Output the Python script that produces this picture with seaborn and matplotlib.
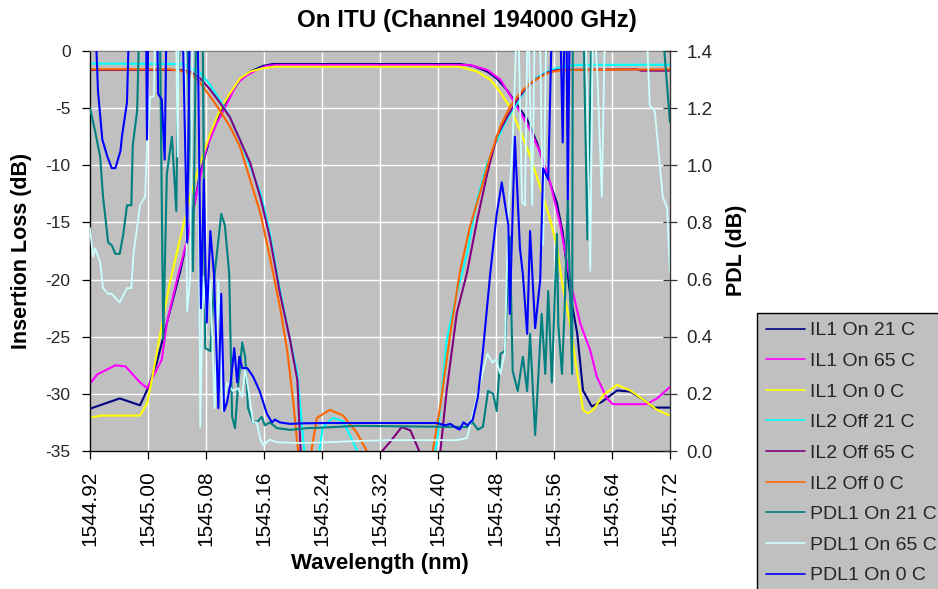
import matplotlib
matplotlib.use("Agg")
import matplotlib.pyplot as plt
import pandas as pd
import seaborn as sns

# ---------------- data (wavelength nm, value) ----------------
X_TICK_LABELS = ["1544.92", "1545.00", "1545.08", "1545.16", "1545.24", "1545.32",
                 "1545.40", "1545.48", "1545.56", "1545.64", "1545.72"]
IL_TICKS = [-35, -30, -25, -20, -15, -10, -5, 0]
PDL_TICKS = [0.0, 0.2, 0.4, 0.6, 0.8, 1.0, 1.2, 1.4]

IL1_ON_21 = [(1544.920, -31.3), (1544.961, -30.4), (1544.989, -31.0), (1545.000, -29.5),
             (1545.012, -27.3), (1545.026, -23.8), (1545.044, -19.4), (1545.058, -15.4),
             (1545.072, -10.7), (1545.086, -7.5), (1545.099, -5.4), (1545.113, -3.85),
             (1545.127, -2.5), (1545.141, -1.8), (1545.159, -1.3), (1545.172, -1.14),
             (1545.430, -1.14), (1545.448, -1.3), (1545.468, -1.8), (1545.481, -2.4),
             (1545.495, -3.4), (1545.509, -4.7), (1545.523, -6.0), (1545.537, -8.1),
             (1545.550, -10.7), (1545.564, -13.3), (1545.572, -15.9), (1545.582, -21.2),
             (1545.592, -24.7), (1545.600, -29.7), (1545.612, -31.1), (1545.626, -30.7),
             (1545.647, -29.7), (1545.665, -29.8), (1545.683, -30.5), (1545.697, -31.2),
             (1545.720, -31.2)]

IL1_ON_65 = [(1544.920, -29.1), (1544.930, -28.3), (1544.955, -27.5), (1544.969, -27.6),
             (1544.989, -29.0), (1544.999, -29.5), (1545.019, -27.0), (1545.026, -23.8),
             (1545.040, -20.0), (1545.054, -16.5), (1545.068, -12.2), (1545.081, -8.4),
             (1545.095, -6.3), (1545.109, -4.6), (1545.123, -2.8), (1545.137, -2.1),
             (1545.150, -1.66), (1545.164, -1.3), (1545.180, -1.22), (1545.444, -1.22),
             (1545.468, -1.66), (1545.486, -2.5), (1545.499, -3.85), (1545.513, -5.3),
             (1545.527, -6.9), (1545.541, -8.9), (1545.555, -11.6), (1545.568, -15.0),
             (1545.582, -20.0), (1545.596, -23.8), (1545.610, -26.2), (1545.619, -28.5),
             (1545.633, -30.4), (1545.641, -30.9), (1545.688, -30.9), (1545.702, -30.4),
             (1545.720, -29.4)]

IL1_ON_0 = [(1544.920, -32.1), (1544.935, -31.9), (1544.961, -31.9), (1544.989, -31.9),
            (1544.999, -30.8), (1545.007, -28.2), (1545.017, -24.7), (1545.030, -20.3),
            (1545.044, -16.5), (1545.058, -12.8), (1545.072, -9.8), (1545.086, -7.2),
            (1545.099, -5.2), (1545.113, -3.7), (1545.127, -2.4), (1545.141, -1.8),
            (1545.159, -1.5), (1545.175, -1.37), (1545.430, -1.37), (1545.454, -1.8),
            (1545.472, -2.5), (1545.486, -3.6), (1545.499, -4.9), (1545.513, -6.9),
            (1545.527, -9.2), (1545.541, -11.9), (1545.555, -14.8), (1545.564, -17.1),
            (1545.572, -20.6), (1545.582, -23.8), (1545.592, -28.2), (1545.600, -31.4),
            (1545.607, -31.7), (1545.614, -31.4), (1545.628, -30.1), (1545.647, -29.2),
            (1545.665, -29.7), (1545.683, -30.5), (1545.702, -31.4), (1545.720, -31.9)]

IL2_OFF_21 = [(1544.920, -1.1), (1545.048, -1.14), (1545.072, -1.9), (1545.086, -3.0),
              (1545.099, -4.3), (1545.113, -5.8), (1545.127, -7.8), (1545.141, -10.1),
              (1545.155, -12.4), (1545.168, -15.9), (1545.182, -20.9), (1545.196, -25.3),
              (1545.206, -28.2), (1545.214, -34.0), (1545.219, -37.0), (1545.232, -37.0),
              (1545.241, -32.9), (1545.255, -32.1), (1545.269, -32.4), (1545.288, -34.9),
              (1545.296, -37.0), (1545.390, -37.0), (1545.399, -34.0), (1545.412, -25.3),
              (1545.426, -21.2), (1545.440, -17.7), (1545.454, -13.0), (1545.468, -9.8),
              (1545.481, -7.8), (1545.495, -6.0), (1545.509, -4.6), (1545.523, -3.1),
              (1545.537, -2.3), (1545.550, -1.8), (1545.564, -1.5), (1545.586, -1.22),
              (1545.720, -1.2)]

IL2_OFF_65 = [(1544.920, -1.66), (1545.044, -1.66), (1545.058, -1.8), (1545.072, -2.4),
              (1545.086, -3.4), (1545.099, -4.5), (1545.113, -5.8), (1545.127, -7.8),
              (1545.141, -9.8), (1545.155, -12.8), (1545.168, -16.3), (1545.182, -21.2),
              (1545.196, -25.3), (1545.206, -28.8), (1545.212, -37.0), (1545.318, -37.0),
              (1545.323, -35.0), (1545.334, -34.2), (1545.350, -32.9), (1545.362, -33.2),
              (1545.374, -35.0), (1545.379, -37.0), (1545.400, -37.0), (1545.412, -29.7),
              (1545.426, -22.9), (1545.440, -19.4), (1545.454, -14.8), (1545.468, -10.7),
              (1545.481, -7.5), (1545.495, -5.8), (1545.509, -4.3), (1545.523, -3.1),
              (1545.537, -2.4), (1545.550, -1.9), (1545.564, -1.66), (1545.675, -1.6),
              (1545.680, -1.72), (1545.720, -1.72)]

IL2_OFF_0 = [(1544.920, -1.6), (1545.030, -1.6), (1545.058, -1.9), (1545.072, -2.8),
             (1545.086, -4.0), (1545.099, -5.2), (1545.113, -6.6), (1545.127, -8.4),
             (1545.141, -11.3), (1545.155, -14.2), (1545.168, -18.0), (1545.182, -22.4),
             (1545.192, -26.2), (1545.200, -30.5), (1545.210, -37.0), (1545.220, -37.0),
             (1545.233, -32.1), (1545.251, -31.4), (1545.269, -31.9), (1545.288, -33.4),
             (1545.306, -35.5), (1545.312, -37.0), (1545.388, -37.0), (1545.393, -34.9),
             (1545.403, -31.1), (1545.417, -24.7), (1545.430, -19.4), (1545.444, -15.4),
             (1545.458, -12.4), (1545.472, -9.2), (1545.486, -6.6), (1545.499, -4.9),
             (1545.513, -3.7), (1545.527, -2.8), (1545.541, -2.3), (1545.555, -1.85),
             (1545.572, -1.66), (1545.720, -1.6)]

PDL1_ON_21 = [(1544.920, 1.20), (1544.927, 1.12), (1544.934, 1.03), (1544.938, 0.89),
              (1544.945, 0.73), (1544.950, 0.72), (1544.955, 0.69), (1544.961, 0.69),
              (1544.966, 0.76), (1544.971, 0.86), (1544.977, 0.86), (1544.979, 1.07),
              (1544.985, 1.19), (1544.989, 1.60), (1545.016, 1.60), (1545.021, 0.39),
              (1545.026, 0.97), (1545.033, 1.10), (1545.039, 0.84), (1545.041, 1.24),
              (1545.046, 1.60), (1545.053, 1.60), (1545.062, 0.63), (1545.067, 1.60),
              (1545.075, 1.60), (1545.079, 0.36), (1545.086, 0.35), (1545.092, 0.62),
              (1545.101, 0.83), (1545.106, 0.79), (1545.112, 0.62), (1545.116, 0.12),
              (1545.120, 0.08), (1545.124, 0.22), (1545.130, 0.38), (1545.134, 0.33),
              (1545.138, 0.15), (1545.145, 0.10), (1545.152, 0.105), (1545.157, 0.12),
              (1545.161, 0.09), (1545.168, 0.10), (1545.178, 0.08), (1545.196, 0.074),
              (1545.219, 0.08), (1545.241, 0.082), (1545.288, 0.088), (1545.440, 0.084),
              (1545.448, 0.10), (1545.455, 0.075), (1545.462, 0.085), (1545.469, 0.21),
              (1545.476, 0.20), (1545.481, 0.14), (1545.486, 0.34), (1545.492, 0.35),
              (1545.499, 0.75), (1545.503, 0.28), (1545.510, 0.21), (1545.517, 0.33),
              (1545.523, 0.21), (1545.527, 0.41), (1545.534, 0.056), (1545.543, 0.48),
              (1545.548, 0.27), (1545.552, 0.56), (1545.557, 0.24), (1545.564, 0.76),
              (1545.566, 0.44), (1545.571, 0.27), (1545.575, 0.52), (1545.579, 0.88),
              (1545.585, 0.27), (1545.586, 1.60), (1545.600, 1.60), (1545.606, 0.74),
              (1545.613, 1.60), (1545.706, 1.60), (1545.720, 1.15)]

PDL1_ON_65 = [(1544.920, 0.78), (1544.924, 0.68), (1544.927, 0.71), (1544.934, 0.66),
              (1544.938, 0.57), (1544.945, 0.55), (1544.950, 0.55), (1544.961, 0.52),
              (1544.971, 0.57), (1544.977, 0.57), (1544.980, 0.69), (1544.989, 0.86),
              (1544.996, 0.89), (1544.999, 1.09), (1545.003, 1.24), (1545.008, 1.24),
              (1545.011, 1.60), (1545.038, 1.60), (1545.041, 1.03), (1545.043, 1.60),
              (1545.050, 1.60), (1545.054, 0.49), (1545.058, 0.60), (1545.062, 1.60),
              (1545.069, 1.60), (1545.072, 0.084), (1545.076, 0.61), (1545.081, 0.45),
              (1545.086, 0.60), (1545.092, 0.15), (1545.097, 0.60), (1545.103, 0.14),
              (1545.109, 0.24), (1545.117, 0.21), (1545.124, 0.22), (1545.130, 0.19),
              (1545.134, 0.29), (1545.141, 0.17), (1545.145, 0.10), (1545.150, 0.10),
              (1545.155, 0.04), (1545.159, 0.02), (1545.168, 0.04), (1545.178, 0.03),
              (1545.186, 0.03), (1545.206, 0.028), (1545.241, 0.03), (1545.288, 0.035),
              (1545.334, 0.038), (1545.426, 0.038), (1545.440, 0.045), (1545.448, 0.13),
              (1545.468, 0.34), (1545.475, 0.31), (1545.480, 0.32), (1545.486, 0.27),
              (1545.492, 0.34), (1545.497, 0.83), (1545.503, 1.08), (1545.510, 1.60),
              (1545.516, 0.87), (1545.520, 0.86), (1545.524, 1.60), (1545.530, 0.86),
              (1545.534, 1.60), (1545.540, 1.60), (1545.545, 0.72), (1545.550, 1.60),
              (1545.603, 1.60), (1545.610, 0.63), (1545.614, 1.60), (1545.620, 1.30),
              (1545.626, 0.89), (1545.631, 1.60), (1545.686, 1.60), (1545.692, 1.21),
              (1545.699, 1.19), (1545.710, 0.89), (1545.716, 0.85), (1545.720, 0.62)]

PDL1_ON_0 = [(1544.920, 1.60), (1544.926, 1.60), (1544.931, 1.26), (1544.937, 1.09),
             (1544.944, 1.03), (1544.950, 0.99), (1544.955, 0.99), (1544.962, 1.05),
             (1544.964, 1.10), (1544.971, 1.22), (1544.975, 1.60), (1544.997, 1.60),
             (1544.9986, 1.09), (1545.001, 1.60), (1545.012, 1.60), (1545.014, 1.25),
             (1545.019, 1.23), (1545.023, 1.02), (1545.026, 1.60), (1545.047, 1.60),
             (1545.054, 0.73), (1545.058, 1.60), (1545.068, 1.60), (1545.073, 0.50),
             (1545.077, 0.95), (1545.081, 0.45), (1545.086, 0.77), (1545.091, 0.62),
             (1545.097, 0.15), (1545.101, 0.55), (1545.105, 0.14), (1545.109, 0.17),
             (1545.114, 0.24), (1545.119, 0.36), (1545.123, 0.24), (1545.126, 0.33),
             (1545.130, 0.29), (1545.137, 0.29), (1545.145, 0.26), (1545.154, 0.21),
             (1545.164, 0.13), (1545.171, 0.10), (1545.175, 0.11), (1545.182, 0.10),
             (1545.196, 0.095), (1545.214, 0.097), (1545.251, 0.098), (1545.398, 0.098),
             (1545.410, 0.09), (1545.417, 0.095), (1545.426, 0.08), (1545.430, 0.075),
             (1545.435, 0.10), (1545.441, 0.09), (1545.448, 0.11), (1545.455, 0.19),
             (1545.462, 0.35), (1545.472, 0.62), (1545.481, 0.83), (1545.488, 0.94),
             (1545.492, 0.87), (1545.497, 0.79), (1545.499, 0.48), (1545.506, 1.10),
             (1545.513, 0.71), (1545.517, 0.62), (1545.523, 0.41), (1545.527, 0.77),
             (1545.534, 0.43), (1545.541, 0.60), (1545.545, 0.99), (1545.552, 0.95),
             (1545.558, 1.60), (1545.568, 1.60), (1545.572, 1.08), (1545.575, 1.60),
             (1545.577, 1.60), (1545.579, 0.88), (1545.582, 1.60), (1545.720, 1.60)]

IL_SERIES = [("IL1 On 21 C", IL1_ON_21, "#000080"),
             ("IL1 On 65 C", IL1_ON_65, "#FF00FF"),
             ("IL1 On 0 C", IL1_ON_0, "#FFFF00"),
             ("IL2 Off 21 C", IL2_OFF_21, "#00FFFF"),
             ("IL2 Off 65 C", IL2_OFF_65, "#800080"),
             ("IL2 Off 0 C", IL2_OFF_0, "#FF6600")]
PDL_SERIES = [("PDL1 On 21 C", PDL1_ON_21, "#008080"),
              ("PDL1 On 65 C", PDL1_ON_65, "#CCFFFF"),
              ("PDL1 On 0 C", PDL1_ON_0, "#0000FF")]

# ---------------- plotting ----------------
sns.set_theme(style="ticks")
plt.rcParams["font.family"] = ["Liberation Sans", "DejaVu Sans"]

W, H = 938, 589
fig = plt.figure(figsize=(W / 100, H / 100), dpi=100)
L, R, T, B = 90, 670, 51, 451
ax = fig.add_axes([L / W, 1 - B / H, (R - L) / W, (B - T) / H])
ax.set_facecolor("#C0C0C0")
ax2 = ax.twinx()

handles = []
for name, pts, color in IL_SERIES:
    df = pd.DataFrame(pts, columns=["wavelength", "value"])
    sns.lineplot(data=df, x="wavelength", y="value", ax=ax, color=color, lw=1.5,
                 sort=False, estimator=None, legend=False)
    ln = ax.lines[-1]
    ln.set_label(name)
    handles.append(ln)

for name, pts, color in PDL_SERIES:
    df = pd.DataFrame(pts, columns=["wavelength", "value"])
    sns.lineplot(data=df, x="wavelength", y="value", ax=ax2, color=color,
                 lw=1.3 if color == "#CCFFFF" else 1.5,
                 sort=False, estimator=None, legend=False)
    ln = ax2.lines[-1]
    ln.set_label(name)
    handles.append(ln)

xt = [float(s) for s in X_TICK_LABELS]
ax.set_xlim(xt[0], xt[-1])
ax.set_ylim(-35, 0)
ax2.set_ylim(0, 1.4)

ax.set_xticks(xt)
ax.set_xticklabels(X_TICK_LABELS, rotation=90, fontsize=15)
ax.set_yticks(IL_TICKS)
ax.set_yticklabels([str(v) for v in IL_TICKS], fontsize=12.5)
ax2.set_yticks(PDL_TICKS)
ax2.set_yticklabels([f"{v:.1f}" for v in PDL_TICKS], fontsize=13.5)

ax.grid(True, color="white", lw=1.0)
ax.set_axisbelow(True)
ax2.grid(False)

ax.tick_params(axis="x", direction="out", length=6, width=0.9, color="black", pad=8,
               bottom=True, colors="black")
ax.tick_params(axis="y", direction="out", length=6, width=0.9, color="black", pad=8,
               left=True)
ax2.tick_params(axis="y", direction="inout", length=10, width=0.9, color="#333333", pad=7,
                right=True)

for sp in ["left", "bottom"]:
    ax.spines[sp].set_color("black")
    ax.spines[sp].set_linewidth(1.0)
ax.spines["top"].set_color("#808080")
ax.spines["top"].set_linewidth(1.0)
ax.spines["right"].set_visible(False)
for sp in ["left", "bottom", "top"]:
    ax2.spines[sp].set_visible(False)
ax2.spines["right"].set_color("#333333")
ax2.spines["right"].set_linewidth(1.0)

ax.set_xlabel("Wavelength (nm)", fontsize=16, fontweight="bold", color="black")
ax.xaxis.set_label_coords((380 - L) / (R - L), (B - 563) / (B - T))
ax.xaxis.label.set_va("center")
ax.set_ylabel("Insertion Loss (dB)", fontsize=15.5, fontweight="bold", color="black")
ax.yaxis.set_label_coords((22 - L) / (R - L), 0.5)
ax.yaxis.label.set_va("center")
ax2.set_ylabel("PDL (dB)", fontsize=15.5, fontweight="bold", color="black")
ax2.yaxis.set_label_coords((737 - L) / (R - L), (B - 250) / (B - T))
ax2.yaxis.label.set_va("center")
ax2.yaxis.label.set_rotation(90)

fig.suptitle("On ITU (Channel 194000 GHz)", x=467 / W, y=1 - 20 / H, va="center",
             fontsize=17.4, fontweight="bold", color="black")

leg = fig.legend(handles, [h.get_label() for h in handles], loc="upper left",
                 bbox_to_anchor=(757 / W, 1 - 313 / H), bbox_transform=fig.transFigure,
                 frameon=True, fancybox=False, shadow=False, facecolor="#C0C0C0",
                 edgecolor="black", framealpha=1, fontsize=14, handlelength=2.0,
                 handletextpad=0.25, labelspacing=0.67, borderpad=0.45, borderaxespad=0)
leg.get_frame().set_linewidth(1.0)
for ln in leg.get_lines():
    ln.set_linewidth(1.2)

fig.savefig("out.png", dpi=100)
